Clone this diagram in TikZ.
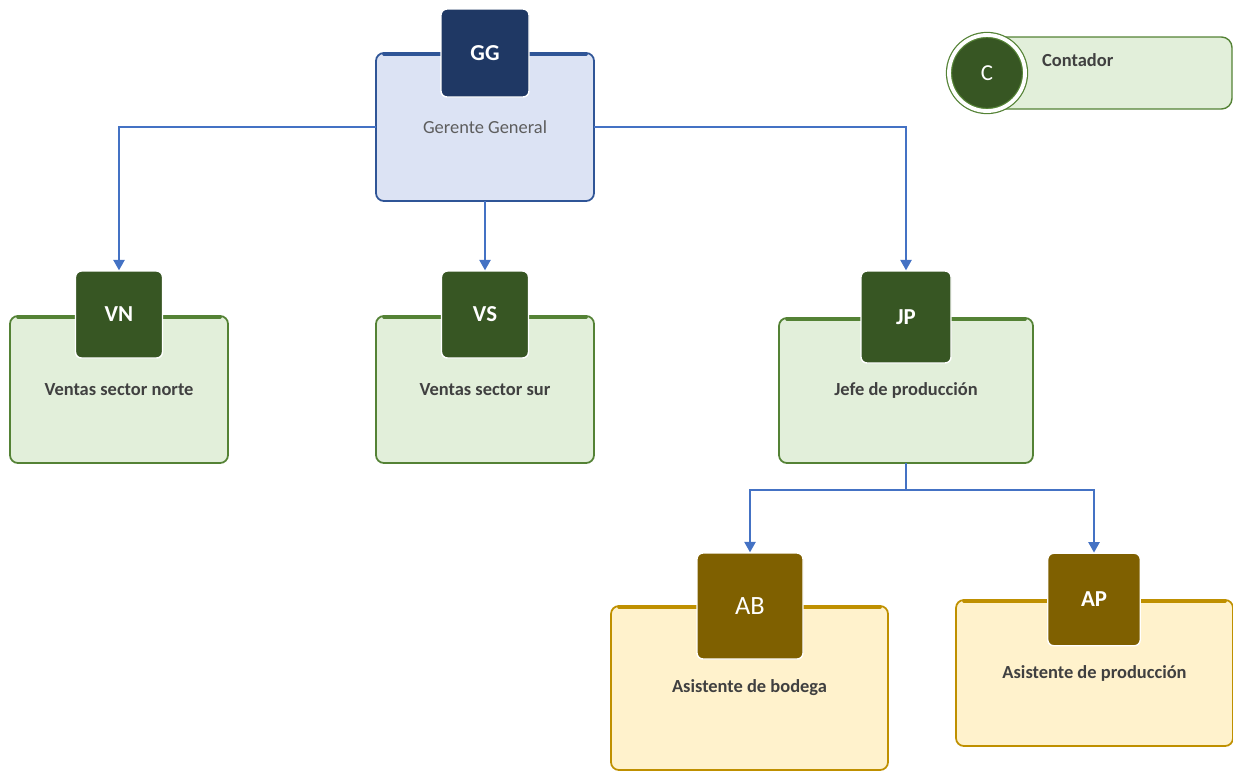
\documentclass[tikz,border=0pt]{standalone}
\usepackage{fontspec}
\setsansfont{Carlito}
\usepackage{tikz}
\usetikzlibrary{arrows.meta,positioning}
\definecolor{orgBlue}{HTML}{4472C4}
\definecolor{orgNavy}{HTML}{1F3864}
\definecolor{orgNavyLine}{HTML}{2F5597}
\definecolor{orgNavyFill}{HTML}{DCE3F4}
\definecolor{orgGreen}{HTML}{375623}
\definecolor{orgGreenLine}{HTML}{548235}
\definecolor{orgGreenFill}{HTML}{E2EFDA}
\definecolor{orgGold}{HTML}{7F6000}
\definecolor{orgGoldLine}{HTML}{BF9000}
\definecolor{orgGoldFill}{HTML}{FFF2CC}
\definecolor{orgInk}{HTML}{404040}
\tikzset{
    every picture/.style={font=\sffamily},
    card/.style={line width=1pt, outer sep=0pt, rounded corners=4.5pt, align=center, text=orgInk, font=\sffamily\bfseries\fontsize{10.5}{12}\selectfont},
    bluecard/.style={card, draw=orgNavyLine, fill=orgNavyFill, minimum width=4.36cm, minimum height=2.96cm},
    greencard/.style={card, draw=orgGreenLine, fill=orgGreenFill},
    goldcard/.style={card, draw=orgGoldLine, fill=orgGoldFill},
    tag/.style={draw=white, line width=0.8pt, rounded corners=3.4pt, text=white, font=\sffamily\bfseries\fontsize{13}{15}\selectfont},
    link/.style={-{Triangle[length=6pt,width=6.5pt]}, line width=0.9pt, draw=orgBlue}
}
\begin{document}
\begin{tikzpicture}
\useasboundingbox (0,0) rectangle (24.66,-15.44);
% cards
\node[bluecard, font=\sffamily\fontsize{10.5}{12}\selectfont, text=orgInk!85] (gg) at (9.70,-2.54) {Gerente General};
\node[greencard, minimum width=4.36cm, minimum height=2.94cm] (vn) at (2.38,-7.79) {Ventas sector norte};
\node[greencard, minimum width=4.36cm, minimum height=2.94cm] (vs) at (9.70,-7.79) {Ventas sector sur};
\node[greencard, minimum width=5.08cm, minimum height=2.90cm] (jp) at (18.12,-7.81) {Jefe de producción};
\node[goldcard, minimum width=5.54cm, minimum height=3.28cm] (ab) at (14.99,-13.76) {Asistente de bodega};
\node[goldcard, minimum width=5.54cm, minimum height=2.92cm] (ap) at (21.89,-13.46) {Asistente de producción};
% thicker top edges
\foreach \c/\l in {gg/orgNavyLine, vn/orgGreenLine, vs/orgGreenLine, jp/orgGreenLine, ab/orgGoldLine, ap/orgGoldLine}
    \draw[draw=\l, line width=2pt, line cap=round] ([xshift=4.5pt,yshift=-0.5pt]\c.north west) -- ([xshift=-4.5pt,yshift=-0.5pt]\c.north east);
% tags
\node[tag, fill=orgNavy, minimum size=1.76cm] (ggtag) at (9.70,-1.06) {GG};
\node[tag, fill=orgGreen, minimum size=1.74cm] (vntag) at (2.38,-6.29) {VN};
\node[tag, fill=orgGreen, minimum size=1.74cm] (vstag) at (9.70,-6.29) {VS};
\node[tag, fill=orgGreen, minimum width=1.80cm, minimum height=1.84cm] (jptag) at (18.12,-6.34) {JP};
\node[tag, fill=orgGold, minimum size=2.12cm, font=\sffamily\fontsize{15}{17}\selectfont] (abtag) at (15.00,-12.12) {AB};
\node[tag, fill=orgGold, minimum size=1.85cm] (aptag) at (21.88,-11.99) {AP};
% contador
\node[draw=orgGreenLine, fill=orgGreenFill, line width=0.8pt, rounded corners=6pt, minimum width=4.92cm, minimum height=1.44cm] (ct) at (22.18,-1.46) {};
\node[circle, fill=orgGreen, draw=orgGreenLine, double=white, double distance=2.2pt, line width=0.7pt, minimum size=1.52cm, text=white, font=\sffamily\fontsize{13}{15}\selectfont] (cttag) at (19.74,-1.46) {C};
\node[anchor=west, text=orgInk, font=\sffamily\bfseries\fontsize{10.5}{12}\selectfont] (ctlabel) at (20.72,-1.20) {Contador};
% links
\coordinate (jpfork) at (18.12,-9.80);
\draw[link] (gg.west) -| (vntag.north);
\draw[link] (gg.south) -- (vstag.north);
\draw[link] (gg.east) -| (jptag.north);
\draw[link] (jp.south) -- (jpfork) -| (abtag.north);
\draw[link] (jpfork) -| (aptag.north);
\end{tikzpicture}
\end{document}
